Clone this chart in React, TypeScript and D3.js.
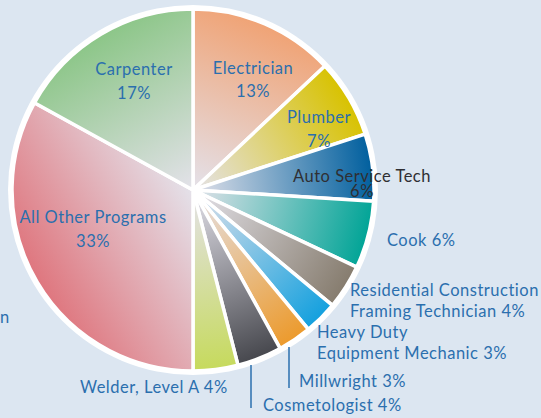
import React from "react";
import * as d3 from "d3";

const categories = [
  "Electrician",
  "Plumber",
  "Auto Service Tech",
  "Cook",
  "Residential Construction Framing Technician",
  "Heavy Duty Equipment Mechanic",
  "Millwright",
  "Cosmetologist",
  "Welder, Level A",
  "All Other Programs",
  "Carpenter",
];
const values = [13, 7, 6, 6, 4, 3, 3, 4, 4, 33, 17];
const sliceColors = [
  "#f0a375",
  "#d8c200",
  "#005f9e",
  "#00a496",
  "#867c6e",
  "#13a0de",
  "#ec9a2c",
  "#46474d",
  "#c6da5c",
  "#df767e",
  "#8cc688",
];
const labelLines = [
  ["Electrician", "13%"],
  ["Plumber", "7%"],
  ["Auto Service Tech", "6%"],
  ["Cook 6%"],
  ["Residential Construction", "Framing Technician 4%"],
  ["Heavy Duty", "Equipment Mechanic 3%"],
  ["Millwright 3%"],
  ["Cosmetologist 4%"],
  ["Welder, Level A 4%"],
  ["All Other Programs", "33%"],
  ["Carpenter", "17%"],
];

// layout (label placement)
const labelLayout = [
  { x: 253, y: 74, anchor: "middle", dy: 23, color: "#2b6fae" },
  { x: 319, y: 123, anchor: "middle", dy: 24, color: "#2b6fae" },
  { x: 362, y: 182, anchor: "middle", dy: 15, color: "#2f2f33" },
  { x: 387, y: 246, anchor: "start", dy: 21, color: "#2b6fae" },
  { x: 350, y: 296, anchor: "start", dy: 21, color: "#2b6fae" },
  { x: 317, y: 338, anchor: "start", dy: 21, color: "#2b6fae" },
  { x: 299, y: 387, anchor: "start", dy: 21, color: "#2b6fae" },
  { x: 263, y: 411, anchor: "start", dy: 21, color: "#2b6fae" },
  { x: 80, y: 393, anchor: "start", dy: 21, color: "#2b6fae" },
  { x: 93, y: 223, anchor: "middle", dy: 24, color: "#2b6fae" },
  { x: 134, y: 75, anchor: "middle", dy: 24, color: "#2b6fae" },
];
const leaders = [
  { i: 6, x: 289, y1: 347, y2: 388 },
  { i: 7, x: 251, y1: 365, y2: 408 },
];

const W = 541;
const H = 418;
const cx = 193;
const cy = 190;
const R = 181;
const pale = "#e4e2ea";
const bg = "#dce6f1";

export default function App() {
  const pie = d3
    .pie<number>()
    .sort(null)
    .value((d) => d);
  const arcs = pie(values);
  const arcGen = d3.arc<d3.PieArcDatum<number>>().innerRadius(0).outerRadius(R);

  return (
    <div style={{ position: "absolute", left: 0, top: 0 }}>
      <svg width={W} height={H} style={{ display: "block" }}>
        <defs>
          {arcs.map((a, i) => {
            const mid = (a.startAngle + a.endAngle) / 2;
            const x2 = Math.sin(mid) * R;
            const y2 = -Math.cos(mid) * R;
            return (
              <linearGradient
                key={i}
                id={`g${i}`}
                gradientUnits="userSpaceOnUse"
                x1={0}
                y1={0}
                x2={x2}
                y2={y2}
              >
                <stop offset="0" stopColor={pale} />
                <stop offset="0.2" stopColor={d3.interpolateRgb(pale, sliceColors[i])(0.2)} />
                <stop offset="1" stopColor={sliceColors[i]} />
              </linearGradient>
            );
          })}
        </defs>
        <rect width={W} height={H} fill={bg} />
        <g transform={`translate(${cx},${cy})`}>
          <circle r={R + 4} fill="#ffffff" />
          {arcs.map((a, i) => (
            <path
              key={categories[i]}
              d={arcGen(a) || ""}
              fill={`url(#g${i})`}
              stroke="#ffffff"
              strokeWidth={3.5}
              strokeLinejoin="round"
            />
          ))}
        </g>
        {leaders.map((l) => (
          <line
            key={l.i}
            x1={l.x}
            x2={l.x}
            y1={l.y1}
            y2={l.y2}
            stroke="#2b6fae"
            strokeWidth={1.5}
          />
        ))}
        <g fontFamily="Lato, 'Open Sans', sans-serif" fontSize={16.5} letterSpacing={0.5}>
          {labelLines.map((lines, i) => {
            const L = labelLayout[i];
            return (
              <text key={i} x={L.x} y={L.y} textAnchor={L.anchor} fill={L.color}>
                {lines.map((t, j) => (
                  <tspan key={j} x={L.x} dy={j === 0 ? 0 : L.dy}>
                    {t}
                  </tspan>
                ))}
              </text>
            );
          })}
          <text x={0} y={323} textAnchor="start" fill="#2b6fae">
            n
          </text>
        </g>
      </svg>
    </div>
  );
}
